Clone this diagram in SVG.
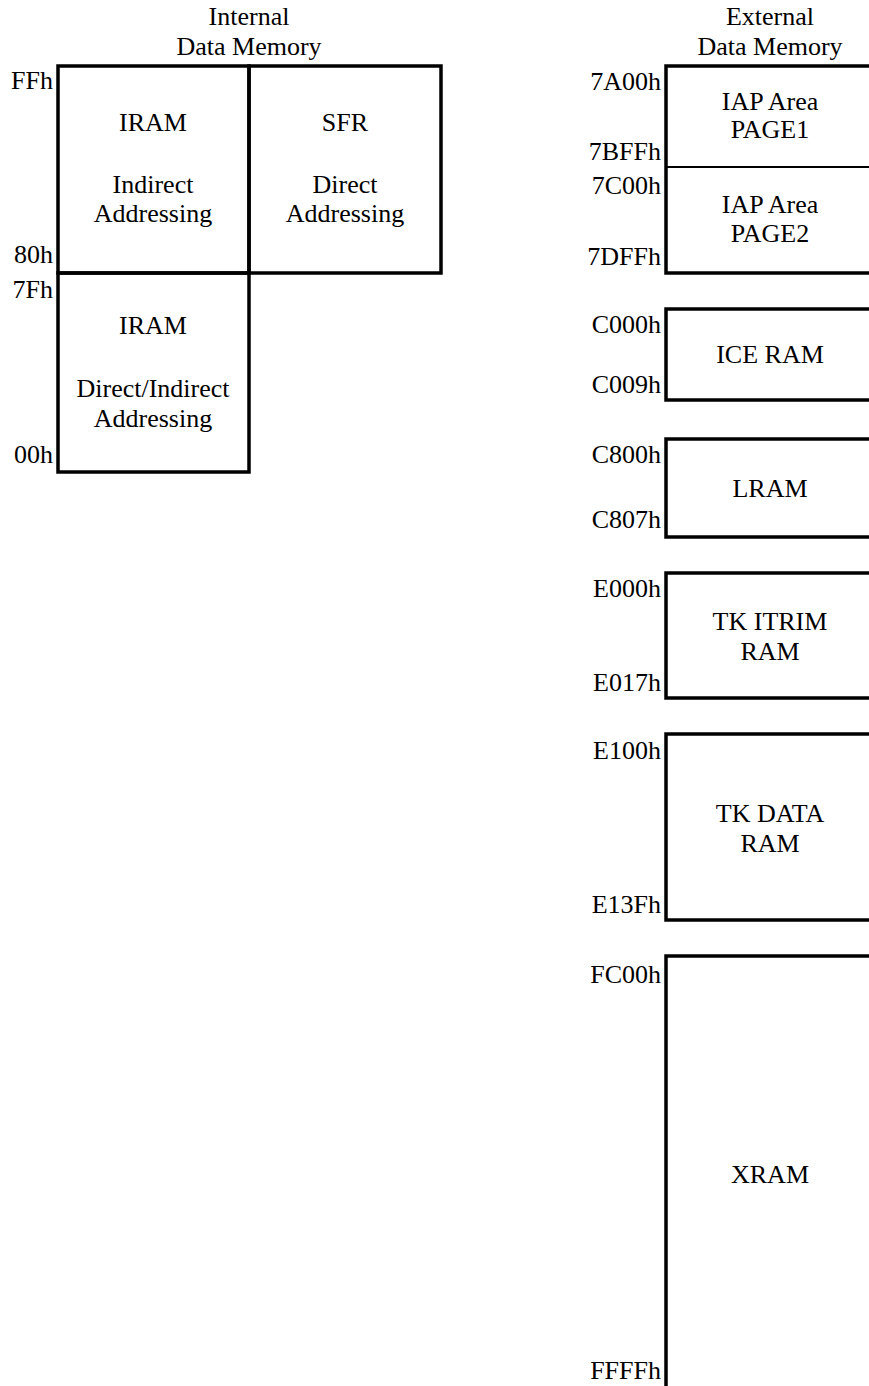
<svg xmlns="http://www.w3.org/2000/svg" width="869" height="1386" viewBox="0 0 869 1386">
<style>
text{font-family:"Liberation Serif","Times New Roman",serif;font-size:26px;fill:#000}
.c{text-anchor:middle}
.r{text-anchor:end}
.box{fill:none;stroke:#000;stroke-width:3.5}
.thin{fill:none;stroke:#000;stroke-width:2}
</style>
<rect width="869" height="1386" fill="#fff"/>
<g id="titles">
<text class="c" x="249" y="25">Internal</text>
<text class="c" x="249" y="55">Data Memory</text>
<text class="c" x="770" y="25">External</text>
<text class="c" x="770" y="55">Data Memory</text>
</g>
<g id="iram-high">
<rect class="box" x="58" y="66" width="191" height="207"/>
<text class="c" x="153" y="131">IRAM</text>
<text class="c" x="153" y="193">Indirect</text>
<text class="c" x="153" y="222">Addressing</text>
</g>
<g id="sfr">
<rect class="box" x="249" y="66" width="192" height="207"/>
<text class="c" x="345" y="131">SFR</text>
<text class="c" x="345" y="193">Direct</text>
<text class="c" x="345" y="222">Addressing</text>
</g>
<g id="iram-low">
<rect class="box" x="58" y="273" width="191" height="199"/>
<text class="c" x="153" y="334">IRAM</text>
<text class="c" x="153" y="397">Direct/Indirect</text>
<text class="c" x="153" y="427">Addressing</text>
</g>
<g id="internal-labels">
<text class="r" x="53" y="89">FFh</text>
<text class="r" x="53" y="263">80h</text>
<text class="r" x="53" y="298">7Fh</text>
<text class="r" x="53" y="463">00h</text>
</g>
<g id="iap">
<rect class="box" x="666" y="66" width="220" height="207"/>
<line class="thin" x1="666" y1="167" x2="869" y2="167"/>
<text class="c" x="770" y="110">IAP Area</text>
<text class="c" x="770" y="138">PAGE1</text>
<text class="c" x="770" y="213">IAP Area</text>
<text class="c" x="770" y="242">PAGE2</text>
<text class="r" x="661" y="90">7A00h</text>
<text class="r" x="661" y="160">7BFFh</text>
<text class="r" x="661" y="194">7C00h</text>
<text class="r" x="661" y="265">7DFFh</text>
</g>
<g id="ice-ram">
<rect class="box" x="666" y="309" width="220" height="91"/>
<text class="c" x="770" y="363">ICE RAM</text>
<text class="r" x="661" y="333">C000h</text>
<text class="r" x="661" y="393">C009h</text>
</g>
<g id="lram">
<rect class="box" x="666" y="439" width="220" height="98"/>
<text class="c" x="770" y="497">LRAM</text>
<text class="r" x="661" y="463">C800h</text>
<text class="r" x="661" y="528">C807h</text>
</g>
<g id="tk-itrim">
<rect class="box" x="666" y="573" width="220" height="125"/>
<text class="c" x="770" y="630">TK ITRIM</text>
<text class="c" x="770" y="660">RAM</text>
<text class="r" x="661" y="597">E000h</text>
<text class="r" x="661" y="691">E017h</text>
</g>
<g id="tk-data">
<rect class="box" x="666" y="734" width="220" height="186"/>
<text class="c" x="770" y="822">TK DATA</text>
<text class="c" x="770" y="852">RAM</text>
<text class="r" x="661" y="759">E100h</text>
<text class="r" x="661" y="913">E13Fh</text>
</g>
<g id="xram">
<path class="box" d="M869 956 H666 V1390"/>
<text class="c" x="770" y="1183">XRAM</text>
<text class="r" x="661" y="983">FC00h</text>
<text class="r" x="661" y="1379">FFFFh</text>
</g>
<g id="connectors"></g>
</svg>
